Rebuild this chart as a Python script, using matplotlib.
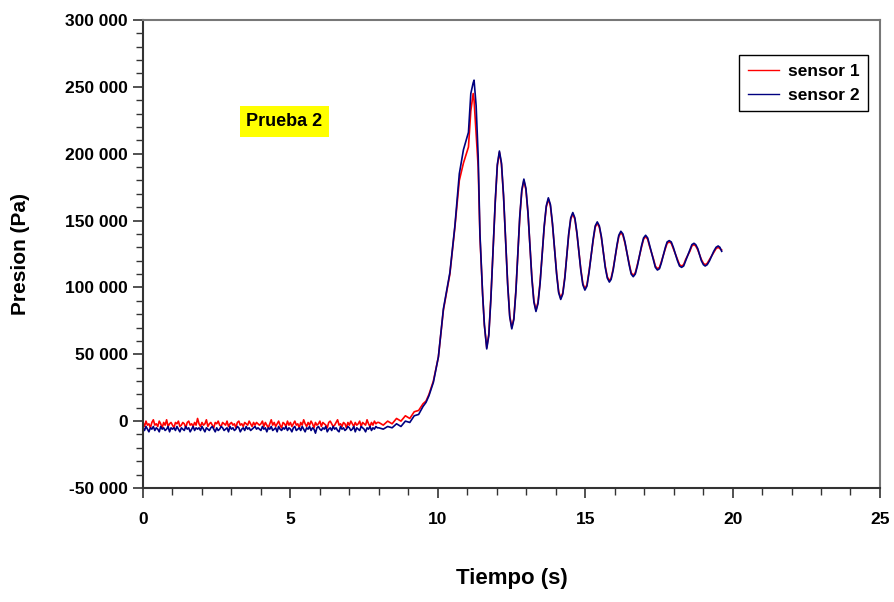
import numpy as np
import matplotlib
matplotlib.use('Agg')
import matplotlib.pyplot as plt
from matplotlib.ticker import MultipleLocator, FuncFormatter

plt.rcParams['font.family'] = ['Liberation Sans', 'DejaVu Sans']
plt.rcParams['font.weight'] = 'bold'

# baseline (0 - 8 s), values in kPa
t_base = np.round(np.arange(0, 8.0, 0.05), 2)
s1_base = [-1, -4, 0, -3, -2, -5, -1, 1, -3, -2, -4, 0, -2, -5, -1, -3, 1, -4, -2, -1,
           -3, -5, -1, -2, 0, -4, -3, -1, -2, -5, -1, 0, -3, -2, -4, -1, -3, 2, -2, -4,
           -1, -3, -2, 1, -4, -2, -1, -3, -5, -1, -2, 0, -3, -4, -1, -2, -3, 0, -4, -2,
           -1, -3, -2, -5, -1, 0, -3, -2, -4, -1, -2, -3, 0, -2, -4, -1, -3, -1, -2, -3,
           -2, 0, -4, -1, -3, -5, -2, 1, -3, -1, -4, -2, 0, -3, -5, -1, -2, -4, 0, -3,
           -1, -4, -2, 0, -3, -2, -5, -1, -3, 1, -2, -4, -1, -3, 0, -2, -5, -1, -3, -2,
           0, -4, -1, -2, -3, -5, -1, 0, -2, -4, -3, -1, 1, -3, -2, -4, -1, -2, -5, -1,
           -3, 0, -2, -4, -1, -3, -2, 0, -4, -1, -2, -3, 1, -2, -4, -1, -3, 0, -2, -1]
s2_base = [-5, -7, -4, -6, -8, -5, -6, -4, -7, -5, -6, -8, -4, -6, -5, -7, -6, -4, -8, -5,
           -6, -5, -7, -4, -6, -8, -5, -6, -7, -4, -6, -5, -8, -6, -4, -7, -5, -6, -5, -7,
           -4, -6, -8, -5, -6, -7, -5, -4, -6, -8, -5, -7, -6, -4, -5, -7, -6, -5, -8, -4,
           -6, -5, -7, -6, -4, -5, -8, -6, -5, -7, -4, -6, -5, -7, -6, -5, -4, -6, -5, -6,
           -7, -4, -6, -5, -8, -5, -6, -4, -7, -6, -5, -8, -4, -6, -7, -5, -6, -4, -7, -5,
           -6, -8, -5, -4, -7, -6, -5, -7, -4, -6, -8, -5, -6, -4, -7, -5, -6, -9, -5, -4,
           -6, -7, -5, -6, -4, -8, -6, -5, -7, -4, -6, -5, -7, -8, -4, -6, -5, -7, -6, -4,
           -5, -7, -6, -4, -8, -5, -6, -7, -4, -5, -6, -8, -5, -6, -4, -7, -5, -6, -4, -5]

# rise and first peak
t_rise = [8.0, 8.15, 8.3, 8.45, 8.6, 8.75, 8.9, 9.05, 9.2, 9.35, 9.5, 9.6, 9.7, 9.85,
          10.02, 10.19, 10.41, 10.58, 10.73, 10.87, 11.04, 11.12, 11.2, 11.23, 11.3,
          11.37, 11.43, 11.52, 11.58]
s1_rise = [-1, -3, 0, -2, 2, 0, 4, 2, 7, 8, 13, 15, 20, 30,
           48, 83, 110, 145, 180, 193, 205, 232, 245, 240, 215,
           190, 138, 95, 72]
s2_rise = [-5, -6, -4, -5, -2, -4, 0, -1, 4, 5, 11, 14, 19, 29,
           48, 84, 111, 146, 185, 203, 216, 245, 253, 255, 236,
           198, 140, 95, 72]

# damped oscillation
t_osc = [11.66, 11.73, 11.80, 11.95, 12.02, 12.09,
         12.16, 12.23, 12.37, 12.44, 12.51,
         12.58, 12.65, 12.78, 12.85, 12.92,
         12.99, 13.06, 13.19, 13.26, 13.33,
         13.40, 13.47, 13.61, 13.68, 13.75,
         13.82, 13.89, 14.03, 14.10, 14.17,
         14.24, 14.31, 14.44, 14.51, 14.58,
         14.65, 14.72, 14.85, 14.92, 14.99,
         15.06, 15.13, 15.27, 15.34, 15.41,
         15.48, 15.55, 15.68, 15.75, 15.82,
         15.88, 15.95, 16.08, 16.14, 16.21,
         16.28, 16.35, 16.49, 16.56, 16.63,
         16.70, 16.77, 16.91, 16.98, 17.05,
         17.12, 17.18, 17.32, 17.38, 17.45,
         17.52, 17.58, 17.72, 17.78, 17.85,
         17.92, 17.99, 18.13, 18.20, 18.27,
         18.34, 18.41, 18.55, 18.62, 18.69,
         18.75, 18.82, 18.94, 19.01, 19.07,
         19.14, 19.22, 19.36, 19.44, 19.51,
         19.57, 19.63]
s1_osc = [55, 65, 92, 164, 191, 201,
          192, 168, 103, 79, 70,
          77, 98, 152, 172, 180,
          173, 155, 108, 90, 83,
          89, 104, 145, 160, 166,
          161, 147, 111, 97, 92,
          96, 108, 139, 151, 155,
          151, 140, 114, 103, 99,
          102, 112, 135, 145, 148,
          145, 137, 116, 108, 105,
          107, 114, 131, 138, 141,
          139, 133, 118, 111, 109,
          111, 117, 130, 136, 138,
          136, 131, 121, 116, 114,
          115, 119, 129, 133, 134,
          133, 129, 121, 117, 116,
          117, 121, 127, 131, 132,
          131, 128, 121, 118, 117,
          118, 121, 126, 129, 130,
          129, 128]
s2_osc = [54, 64, 91, 165, 192, 202,
          193, 169, 102, 78, 69,
          76, 97, 153, 173, 181,
          174, 156, 107, 89, 82,
          88, 103, 146, 161, 167,
          162, 148, 110, 96, 91,
          95, 107, 140, 152, 156,
          152, 141, 113, 102, 98,
          101, 111, 136, 146, 149,
          146, 138, 115, 107, 104,
          106, 113, 132, 139, 142,
          140, 134, 117, 110, 108,
          110, 116, 131, 137, 139,
          137, 132, 120, 115, 113,
          114, 118, 130, 134, 135,
          134, 130, 120, 116, 115,
          116, 120, 128, 132, 133,
          132, 129, 120, 117, 116,
          117, 120, 127, 130, 131,
          130, 127]

t = np.concatenate([t_base, t_rise, t_osc])
s1 = np.concatenate([s1_base, s1_rise, s1_osc]) * 1000
s2 = np.concatenate([s2_base, s2_rise, s2_osc]) * 1000

fig = plt.figure(figsize=(8.95, 6.02), dpi=100)
ax = fig.add_axes([0.1598, 0.1894, 0.8234, 0.7774])

ax.plot(t, s1, color='#ff0000', lw=1.2, label='sensor 1')
ax.plot(t, s2, color='#000080', lw=1.2, label='sensor 2')

ax.set_xlim(0, 25)
ax.set_ylim(-50000, 300000)
ax.xaxis.set_major_locator(MultipleLocator(5))
ax.xaxis.set_minor_locator(MultipleLocator(1))
ax.yaxis.set_major_locator(MultipleLocator(50000))
ax.yaxis.set_minor_locator(MultipleLocator(10000))
ax.yaxis.set_major_formatter(FuncFormatter(lambda v, p: f"{int(v):,}".replace(",", " ")))

ax.tick_params(which='major', direction='out', length=7, width=1.2, labelsize=12.5, colors='#333333', labelcolor='black')
ax.tick_params(which='minor', direction='out', length=5, width=1.0, colors='#333333')
ax.tick_params(axis='x', which='major', pad=10)
ax.tick_params(axis='y', which='major', pad=4)
for lab in ax.get_xticklabels() + ax.get_yticklabels():
    lab.set_fontweight('bold')

for side in ['left', 'bottom']:
    ax.spines[side].set_color('#333333')
    ax.spines[side].set_linewidth(1.5)
for side in ['top', 'right']:
    ax.spines[side].set_color('#777777')
    ax.spines[side].set_linewidth(1.5)

ax.set_xlabel('Tiempo (s)', fontsize=16, fontweight='bold')
ax.set_ylabel('Presion (Pa)', fontsize=15, fontweight='bold')
ax.xaxis.set_label_coords(0.5, -0.172)
ax.yaxis.set_label_coords(-0.153, 0.5)

ax.text(0.192, 0.7835, 'Prueba 2', transform=ax.transAxes, ha='center', va='center',
        fontsize=13, fontweight='bold',
        bbox=dict(facecolor='#ffff00', edgecolor='none', pad=5))

leg = ax.legend(loc='upper right', bbox_to_anchor=(0.984, 0.925), borderaxespad=0,
                fancybox=False, framealpha=1, edgecolor='black', fontsize=12.5,
                handlelength=1.8, handletextpad=0.5, labelspacing=0.5, borderpad=0.5)
leg.get_frame().set_linewidth(1.0)
for txt in leg.get_texts():
    txt.set_fontweight('bold')
for line in leg.get_lines():
    line.set_linewidth(1.0)

fig.savefig('out.png', dpi=100)
